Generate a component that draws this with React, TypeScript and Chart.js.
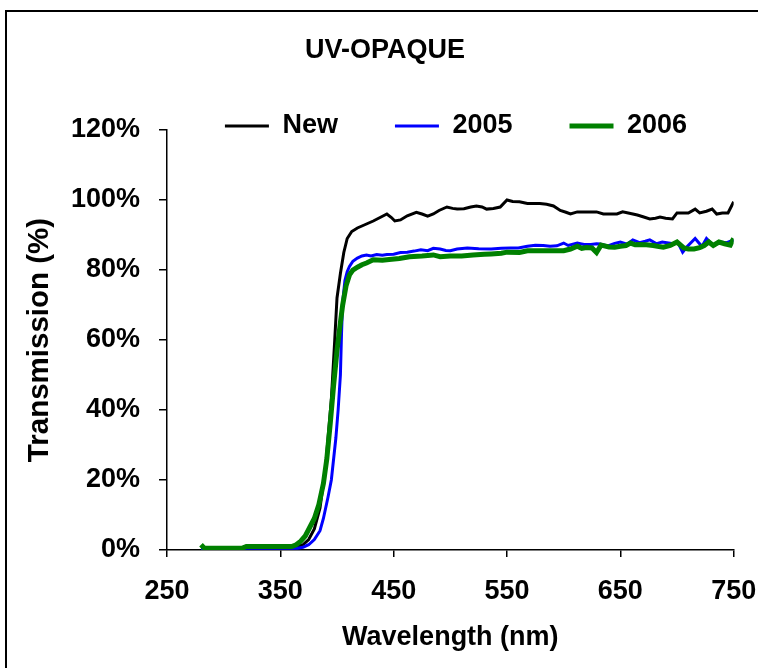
import React, { useEffect, useRef } from "react";
import { Chart, registerables } from "chart.js";

Chart.register(...registerables);

const TITLE = "UV-OPAQUE";
const X_TITLE = "Wavelength (nm)";
const Y_TITLE = "Transmission (%)";
const X_TICKS = [250, 350, 450, 550, 650, 750];
const Y_TICKS = [0, 20, 40, 60, 80, 100, 120];
const SERIES_NAMES = ["New", "2005", "2006"];

const NEW_WL = [280, 290, 300, 310, 320, 330, 340, 350, 360, 365, 370, 375, 380, 385, 390, 395, 398, 400, 403, 406, 409, 413, 418, 425, 432, 438, 444, 448, 451, 456, 462, 470, 475, 480, 485, 490, 497, 502, 506, 512, 518, 523, 528, 532, 538, 544, 550, 555, 561, 568, 574, 579, 585, 591, 597, 602, 606, 612, 618, 624, 629, 635, 641, 647, 652, 658, 665, 670, 676, 681, 685, 690, 696, 700, 705, 710, 716, 720, 726, 731, 735, 740, 745, 750];
const NEW_T = [0.3, 0.3, 0.3, 0.3, 0.5, 0.5, 0.5, 0.5, 0.8, 1, 1.5, 3, 6, 12, 24, 43, 60, 72, 79, 85, 89, 91, 92, 93, 94, 95, 96, 95, 94, 94.3, 95.5, 96.5, 96, 95.4, 96, 97, 98, 97.6, 97.4, 97.5, 98, 98.3, 98, 97.4, 97.6, 98, 100, 99.6, 99.5, 99, 99, 99, 98.8, 98.3, 97, 96.5, 96, 96.6, 96.6, 96.6, 96.6, 96, 96, 96, 96.6, 96.2, 95.7, 95.2, 94.6, 94.8, 95.1, 94.8, 94.6, 96.3, 96.3, 96.3, 97.4, 96.3, 96.8, 97.4, 96, 96.3, 96.3, 99.5];

const Y2005_WL = [280, 290, 300, 320, 340, 360, 365, 370, 375, 380, 385, 388, 392, 395, 397, 399, 401, 403, 404, 405, 407, 409, 411, 414, 418, 422, 426, 430, 435, 440, 444, 450, 456, 462, 468, 474, 480, 485, 491, 496, 500, 506, 515, 525, 536, 545, 553, 560, 568, 575, 582, 588, 594, 600, 604, 612, 618, 624, 629, 632, 639, 645, 650, 656, 661, 667, 672, 676, 682, 687, 691, 697, 701, 705, 709, 716, 722, 726, 732, 738, 744, 750];
const Y2005_T = [0.3, 0.3, 0.3, 0.5, 0.5, 0.5, 0.5, 0.8, 1.5, 3, 5.5, 9, 15, 20, 26, 32, 40, 50, 62, 71, 77, 79.5, 81, 82.5, 83.4, 84, 84.3, 84, 84.4, 84.2, 84.4, 84.5, 85, 85.1, 85.4, 85.8, 85.5, 86.2, 86, 85.6, 85.5, 86, 86.3, 86.1, 86, 86.2, 86.3, 86.3, 86.8, 87.1, 87, 86.8, 86.9, 87.7, 87, 87.7, 87.3, 87.3, 87.5, 87.4, 86.9, 87.6, 88, 87.4, 88.6, 87.8, 88.2, 88.6, 87.5, 88, 87.8, 87.5, 87.7, 85.1, 86.7, 89, 86.7, 89, 87, 88, 87.8, 88.6];

const Y2006_WL = [280, 283, 290, 300, 310, 316, 320, 330, 340, 350, 360, 364, 368, 372, 376, 380, 384, 388, 391, 394, 397, 400, 403, 405, 408, 411, 414, 418, 422, 426, 432, 440, 446, 455, 464, 475, 485, 491, 500, 510, 520, 530, 536, 545, 550, 561, 568, 580, 590, 600, 606, 612, 616, 620, 625, 629, 633, 640, 645, 650, 655, 659, 663, 667, 673, 679, 684, 688, 694, 700, 706, 710, 715, 720, 724, 728, 732, 737, 742, 747, 750];
const Y2006_T = [1.5, 0.5, 0.5, 0.5, 0.5, 0.5, 1, 1, 1, 1, 1, 1.5, 2.5, 4, 6.5, 9, 13, 19, 26, 36, 47, 57, 65, 70, 75.5, 78.6, 80, 80.8, 81.5, 82, 82.9, 82.8, 83, 83.3, 83.8, 84, 84.3, 83.8, 84, 84, 84.3, 84.5, 84.6, 84.8, 85.1, 85, 85.5, 85.5, 85.5, 85.5, 86, 86.8, 86.2, 86.4, 86.3, 85, 87.1, 86.6, 86.5, 86.8, 87, 87.7, 87.2, 87.3, 87.2, 87, 86.7, 86.5, 87, 88, 86.3, 86, 86, 86.4, 87, 88, 87, 88, 87.5, 87.1, 89];

const FONT_FAMILY = "'Liberation Sans', Arial, Helvetica, sans-serif";
const FONT = { family: FONT_FAMILY, size: 27, weight: "bold" as const, lineHeight: 1.2 };
const Y_TITLE_FONT = { family: FONT_FAMILY, size: 29.5, weight: "bold" as const, lineHeight: 1.2 };

// canvas is shifted 5px to the left inside the page frame
const CANVAS_LEFT = -5;
const CANVAS_W = 780;
const CANVAS_H = 668;
const LEGEND_DX = 71;
const LEGEND_TOP = 55.5;

const toPoints = (xs: number[], ys: number[]) => xs.map((x, i) => ({ x, y: ys[i] }));

const legendPlace = {
  id: "legendPlace",
  afterLayout(chart: any) {
    const l = chart.legend;
    if (!l) return;
    l.left += LEGEND_DX;
    l.right += LEGEND_DX;
    l.top = LEGEND_TOP;
    l.bottom = LEGEND_TOP + 90;
    l.height = 90;
  },
};

export default function App() {
  const ref = useRef<HTMLCanvasElement | null>(null);

  useEffect(() => {
    if (!ref.current) return;
    const chart = new Chart(ref.current, {
      type: "line",
      data: {
        datasets: [
          {
            label: SERIES_NAMES[0],
            data: toPoints(NEW_WL, NEW_T),
            borderColor: "#000000",
            backgroundColor: "#000000",
            borderWidth: 3,
            pointRadius: 0,
            pointStyle: "line",
            order: 2,
          },
          {
            label: SERIES_NAMES[1],
            data: toPoints(Y2005_WL, Y2005_T),
            borderColor: "#0000FF",
            backgroundColor: "#0000FF",
            borderWidth: 3,
            pointRadius: 0,
            pointStyle: "line",
            order: 1,
          },
          {
            label: SERIES_NAMES[2],
            data: toPoints(Y2006_WL, Y2006_T),
            borderColor: "#008000",
            backgroundColor: "#008000",
            borderWidth: 5,
            pointRadius: 0,
            pointStyle: "line",
            order: 0,
          },
        ],
      },
      plugins: [legendPlace],
      options: {
        animation: false,
        responsive: false,
        devicePixelRatio: 1,
        layout: { padding: 0 },
        plugins: {
          tooltip: { enabled: false },
          title: {
            display: true,
            text: TITLE,
            color: "#000",
            font: FONT,
            padding: { top: 34.8, bottom: 0 },
          },
          legend: {
            display: true,
            position: "top",
            align: "center",
            fullSize: true,
            maxHeight: 62.8,
            labels: {
              usePointStyle: true,
              pointStyleWidth: 44,
              padding: 57,
              color: "#000",
              font: FONT,
              sort: (a: any, b: any) => a.datasetIndex - b.datasetIndex,
            },
          },
        },
        scales: {
          x: {
            type: "linear",
            min: 250,
            max: 750,
            afterBuildTicks: (s: any) => {
              s.ticks = X_TICKS.map((v) => ({ value: v }));
            },
            afterFit: (s: any) => {
              s.height = 118;
            },
            ticks: { color: "#000", font: FONT, padding: 18.8, maxRotation: 0, autoSkip: false },
            grid: { drawOnChartArea: false, drawTicks: true, tickLength: 7, color: "#000", lineWidth: 1.5 },
            border: { display: true, color: "#000", width: 1.5 },
            title: { display: true, text: X_TITLE, color: "#000", font: FONT, padding: { top: 0, bottom: 14 } },
          },
          y: {
            type: "linear",
            min: 0,
            max: 120,
            afterBuildTicks: (s: any) => {
              s.ticks = Y_TICKS.map((v) => ({ value: v }));
            },
            afterFit: (s: any) => {
              s.width = 172;
            },
            ticks: { color: "#000", font: FONT, padding: 19, callback: (v: any) => v + "%" },
            grid: { drawOnChartArea: false, drawTicks: true, tickLength: 8, color: "#000", lineWidth: 1.5 },
            border: { display: true, color: "#000", width: 1.5 },
            title: { display: true, text: Y_TITLE, color: "#000", font: Y_TITLE_FONT, padding: { top: 27.3, bottom: 0 } },
          },
        },
      },
    });
    return () => chart.destroy();
  }, []);

  return (
    <div
      style={{
        position: "fixed",
        left: 0,
        top: 0,
        width: 758,
        height: 668,
        overflow: "hidden",
        background: "#ffffff",
      }}
    >
      <div
        style={{
          position: "absolute",
          left: 5,
          top: 10,
          width: 800,
          height: 800,
          border: "2px solid #000",
        }}
      />
      <canvas
        ref={ref}
        width={CANVAS_W}
        height={CANVAS_H}
        style={{ position: "absolute", left: CANVAS_LEFT, top: 0, display: "block", width: CANVAS_W, height: CANVAS_H }}
      />
    </div>
  );
}
